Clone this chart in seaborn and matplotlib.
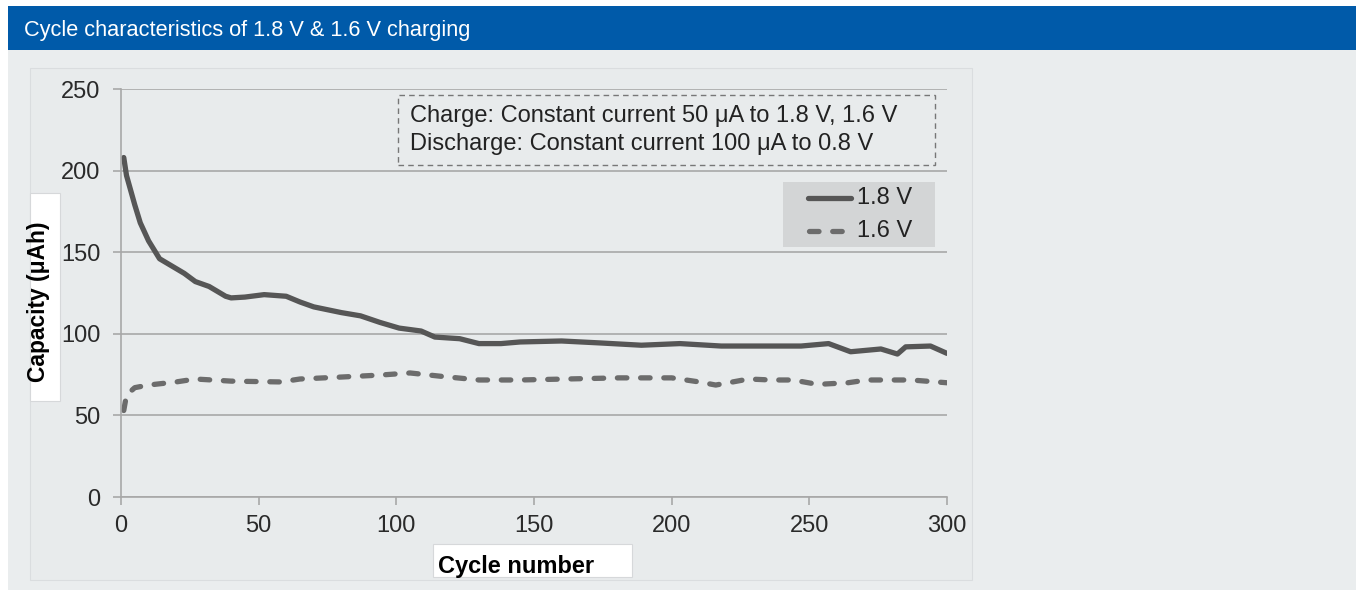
import matplotlib
matplotlib.use("Agg")
import matplotlib.pyplot as plt
from matplotlib.patches import Rectangle
from matplotlib.lines import Line2D
import seaborn as sns
import pandas as pd

# ---- data ----
cycles_18 = [1, 2, 5, 7, 10, 14, 18, 23, 27, 32, 38, 40, 45, 52, 60, 65, 70, 80, 87, 94,
             101, 109, 114, 123, 130, 138, 145, 160, 174, 189, 203, 218, 247, 257, 265,
             276, 282, 285, 294, 300]
cap_18 = [208, 197, 179, 168, 157, 146, 142, 137, 132, 129, 123, 122, 122.5, 124, 123,
          119.5, 116.5, 113, 111, 107, 103.5, 101.7, 98, 97, 94, 94, 95, 95.6, 94.4, 93,
          94, 92.5, 92.5, 94, 89, 90.7, 87.6, 92, 92.5, 88]

cycles_16 = [1, 2, 5, 10, 20, 27, 40, 58, 65, 80, 94, 105, 116, 130, 145, 181, 200, 210,
             216, 228, 236, 244, 253, 264, 271, 287, 300]
cap_16 = [53, 62.5, 67, 68.6, 70.5, 72.3, 71, 70.5, 72.3, 73.5, 74.7, 76, 74, 71.7, 71.7,
          73, 73, 70.5, 68.6, 72.3, 71.7, 71.7, 69, 70, 71.7, 71.7, 70]

series_names = ["1.8 V", "1.6 V"]
y_ticks = [0, 50, 100, 150, 200, 250]
x_ticks = [0, 50, 100, 150, 200, 250, 300]
title = "Cycle characteristics of 1.8 V & 1.6 V charging"
note_lines = ["Charge: Constant current 50 μA to 1.8 V, 1.6 V",
              "Discharge: Constant current 100 μA to 0.8 V"]

df18 = pd.DataFrame({"cycle": cycles_18, "cap": cap_18})
df16 = pd.DataFrame({"cycle": cycles_16, "cap": cap_16})

sns.set_theme(style="white")
plt.rcParams["font.family"] = ["Liberation Sans", "DejaVu Sans"]

W, H = 1356, 590
fig = plt.figure(figsize=(W / 100, H / 100), dpi=100, facecolor="white")

def px_rect(x0, y0, x1, y1, **kw):
    fig.patches.append(Rectangle((x0 / W, 1 - y1 / H), (x1 - x0) / W, (y1 - y0) / H,
                                 transform=fig.transFigure, figure=fig, **kw))

# background areas
px_rect(8, 50, W, H, facecolor="#eaedee", edgecolor="none", zorder=0)
px_rect(8, 6, W, 50, facecolor="#005aa9", edgecolor="none", zorder=0)
px_rect(30, 68, 972, 580, facecolor="#e8ebec", edgecolor="#dadddf", linewidth=0.8, zorder=0)
# label boxes
px_rect(30, 193, 60, 401, facecolor="white", edgecolor="#d6d8da", linewidth=0.8, zorder=1)
px_rect(433, 544, 632, 577, facecolor="white", edgecolor="#d6d8da", linewidth=0.8, zorder=1)

fig.text(24 / W, 1 - 36 / H, title, color="white", fontsize=15.7, ha="left", va="baseline")

DASH = (1.8, 2.6)
LW = 3.8

ax = fig.add_axes([121 / W, 1 - 497 / H, (947 - 121) / W, (497 - 89) / H])
ax.set_facecolor("none")
ax.set_zorder(5)

sns.lineplot(data=df18, x="cycle", y="cap", ax=ax, color="#565656", linewidth=LW,
             solid_capstyle="round", solid_joinstyle="round", label=series_names[0], legend=False)
sns.lineplot(data=df16, x="cycle", y="cap", ax=ax, color="#6c6c6c", linewidth=LW,
             dash_capstyle="round", label=series_names[1], legend=False)
ax.lines[1].set_dashes(DASH)
ax.lines[1].set_dash_capstyle("round")

ax.set_xlim(0, 300)
ax.set_ylim(0, 250)
ax.set_xticks(x_ticks)
ax.set_yticks(y_ticks)
ax.yaxis.grid(True, color="#a8a8a8", linewidth=1.2)
ax.xaxis.grid(False)
for s in ["top", "right"]:
    ax.spines[s].set_visible(False)
ax.spines["left"].set_color("#a8a8a8")
ax.spines["bottom"].set_color("#a8a8a8")
ax.spines["left"].set_linewidth(1.2)
ax.spines["bottom"].set_linewidth(1.2)
ax.tick_params(axis="x", direction="out", length=6, width=1.2, color="#a8a8a8",
               labelsize=17, labelcolor="#2a2a2a", pad=7, bottom=True)
ax.tick_params(axis="y", direction="out", length=6, width=1.2, color="#a8a8a8",
               labelsize=17, labelcolor="#2a2a2a", pad=9, left=True)
ax.set_xlabel("")
ax.set_ylabel("")

fig.text(39 / W, 1 - 302 / H, "Capacity (μAh)", rotation=90, fontsize=16.4,
         fontweight="bold", ha="center", va="center", color="black")
fig.text(516 / W, 1 - 566 / H, "Cycle number", fontsize=17, fontweight="bold",
         ha="center", va="center", color="black")

# annotation box (dashed)
px_rect(398, 95, 935, 165, facecolor="none", edgecolor="#777777", linewidth=1.0,
        linestyle=(0, (4, 3)), zorder=3)
fig.text(410 / W, 1 - 116 / H, note_lines[0], fontsize=17, ha="left", va="center", color="#222222")
fig.text(410 / W, 1 - 144 / H, note_lines[1], fontsize=17, ha="left", va="center", color="#222222")

# legend box
px_rect(783, 182, 935, 247, facecolor="#d3d5d6", edgecolor="none", zorder=3)
fig.lines.append(Line2D([808 / W, 851 / W], [1 - 198 / H, 1 - 198 / H], transform=fig.transFigure,
                        color="#565656", linewidth=LW, solid_capstyle="round", zorder=4))
l2 = Line2D([809 / W, 851 / W], [1 - 231 / H, 1 - 231 / H], transform=fig.transFigure,
            color="#6c6c6c", linewidth=LW, dash_capstyle="round", zorder=4)
l2.set_dashes(DASH)
fig.lines.append(l2)
fig.text(857 / W, 1 - 198 / H, series_names[0], fontsize=17, ha="left", va="center", color="#222222")
fig.text(857 / W, 1 - 231 / H, series_names[1], fontsize=17, ha="left", va="center", color="#222222")

fig.savefig("out.png", dpi=100, facecolor="white")
